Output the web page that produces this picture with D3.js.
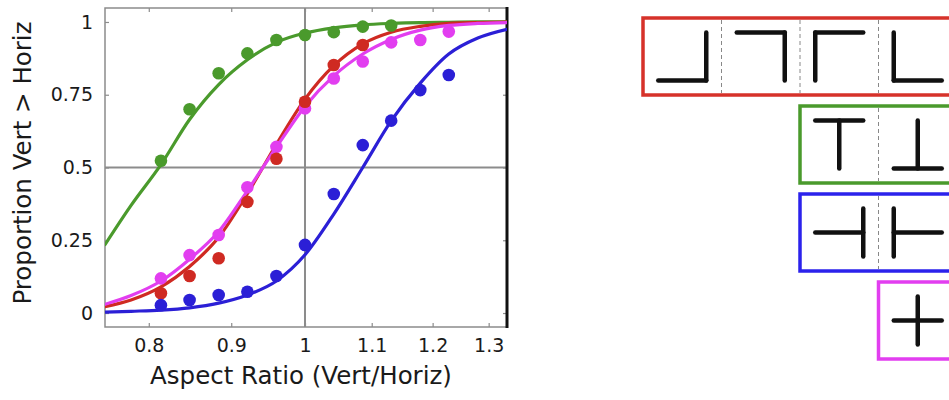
<!DOCTYPE html>
<html>
<head>
<meta charset="utf-8">
<script src="https://cdn.jsdelivr.net/npm/d3@7"></script>
<style>
  html, body { margin: 0; padding: 0; background: #fff; }
  svg { display: block; }
  text { font-family: "DejaVu Sans", "Liberation Sans", sans-serif; fill: #1a1a1a; }
</style>
</head>
<body>
<svg id="chart" width="949" height="400"></svg>
<script>
// ---------- data ----------
const ratios = [0.814, 0.848, 0.884, 0.921, 0.96, 1.0, 1.042, 1.086, 1.131, 1.179, 1.228];
const greenPts   = [0.523, 0.70, 0.824, 0.892, 0.938, 0.955, 0.965, 0.984, 0.988];
const redPts     = [0.068, 0.127, 0.188, 0.382, 0.53, 0.726, 0.852, 0.921];
const magentaPts = [0.119, 0.199, 0.268, 0.432, 0.571, 0.703, 0.806, 0.864, 0.93, 0.938, 0.967];
const bluePts    = [0.027, 0.045, 0.062, 0.073, 0.127, 0.234, 0.409, 0.577, 0.661, 0.766, 0.818];

// fitted curves
const curveX       = [0.7515, 0.78, 0.814, 0.848, 0.884, 0.921, 0.96, 1.0, 1.042, 1.086, 1.131, 1.179, 1.228, 1.28, 1.3345];
const greenFit     = [0.235, 0.37, 0.51, 0.665, 0.785, 0.87, 0.93, 0.962, 0.98, 0.99, 0.995, 0.998, 0.999, 1.0, 1.0];
const redFit       = [0.022, 0.045, 0.09, 0.16, 0.26, 0.41, 0.58, 0.735, 0.85, 0.925, 0.965, 0.985, 0.995, 0.998, 1.0];
const magentaFit   = [0.03, 0.06, 0.11, 0.185, 0.28, 0.42, 0.57, 0.71, 0.815, 0.89, 0.94, 0.972, 0.988, 0.995, 0.998];
const blueFit      = [0.003, 0.006, 0.01, 0.018, 0.034, 0.062, 0.11, 0.2, 0.34, 0.5, 0.66, 0.79, 0.89, 0.945, 0.975];

const xTicks = [0.8, 0.9, 1, 1.1, 1.2, 1.3];
const yTicks = [0, 0.25, 0.5, 0.75, 1];
const xTitle = "Aspect Ratio (Vert/Horiz)";
const yTitle = "Proportion Vert > Horiz";

// stimulus conditions (right panel)
const condNames  = ["corner", "T", "sideT", "cross"];
const condGlyphs = [["┘", "┐", "┌", "└"], ["┬", "┴"], ["┤", "├"], ["┼"]];
const condStart  = [0, 2, 2, 3];   // first column of each box

// ---------- styles ----------
const colors = { corner: "#d6322a", T: "#4a9a2c", sideT: "#2b22ec", cross: "#e23ef0" };
const lineColors = { green: "#4a9a2c", red: "#cf2a22", magenta: "#e23ef0", blue: "#2b1fd6" };

const svg = d3.select("#chart");
const L = 105, R = 507, T = 8, B = 327;

const x = d3.scaleLog().domain([0.7515, 1.3345]).range([L, R]);
const y = d3.scaleLinear().domain([-0.048, 1.048]).range([B, T]);

const plot = svg.append("g");

// gridlines at 1 and 0.5
plot.append("line").attr("x1", x(1)).attr("x2", x(1)).attr("y1", T).attr("y2", B)
  .attr("stroke", "#8c8c8c").attr("stroke-width", 2);
plot.append("line").attr("x1", L).attr("x2", R).attr("y1", y(0.5)).attr("y2", y(0.5))
  .attr("stroke", "#8c8c8c").attr("stroke-width", 2);

// axes with inward ticks (all four sides)
const axB = d3.axisBottom(x).tickValues(xTicks).tickSize(-4).tickFormat(d3.format("~g")).tickPadding(12);
const axT = d3.axisTop(x).tickValues(xTicks).tickSize(-4).tickFormat("");
const axLf = d3.axisLeft(y).tickValues(yTicks).tickSize(-4).tickFormat(d3.format("~g")).tickPadding(12);
const axRt = d3.axisRight(y).tickValues(yTicks).tickSize(-4).tickFormat("");

function styleAxis(g) {
  g.select(".domain").remove();
  g.selectAll(".tick line").attr("stroke", "#8c8c8c").attr("stroke-width", 1.2);
  g.selectAll(".tick text").style("font-family", '"DejaVu Sans", sans-serif')
    .style("font-size", "19px").attr("fill", "#1a1a1a");
}
plot.append("g").attr("transform", `translate(0,${B})`).call(axB).call(styleAxis);
plot.append("g").attr("transform", `translate(0,${T})`).call(axT).call(styleAxis);
plot.append("g").attr("transform", `translate(${L},0)`).call(axLf).call(styleAxis);
plot.append("g").attr("transform", `translate(${R},0)`).call(axRt).call(styleAxis);

// frame
plot.append("path").attr("d", `M${R},${T}H${L}V${B}H${R}`).attr("fill", "none")
  .attr("stroke", "#8c8c8c").attr("stroke-width", 1.5);
plot.append("line").attr("x1", R).attr("x2", R).attr("y1", T - 1).attr("y2", B + 1)
  .attr("stroke", "#111").attr("stroke-width", 3);

// curves
const series = [
  { key: "green", pts: greenPts, fit: greenFit },
  { key: "magenta", pts: magentaPts, fit: magentaFit },
  { key: "red", pts: redPts, fit: redFit },
  { key: "blue", pts: bluePts, fit: blueFit }
];
const line = d3.line().x(d => x(d[0])).y(d => y(d[1])).curve(d3.curveMonotoneX);
svg.append("clipPath").attr("id", "clip").append("rect")
  .attr("x", L).attr("y", T).attr("width", R - L).attr("height", B - T);
const lines = plot.append("g").attr("clip-path", "url(#clip)");
[series[0], series[2], series[1], series[3]].forEach(s => {
  lines.append("path").datum(curveX.map((v, i) => [v, s.fit[i]]))
    .attr("d", line).attr("fill", "none").attr("stroke", lineColors[s.key])
    .attr("stroke-width", 3.2).attr("stroke-linecap", "round");
});
series.forEach(s => {
  plot.append("g").selectAll("circle").data(s.pts.map((v, i) => [ratios[i], v]))
    .join("circle").attr("cx", d => x(d[0])).attr("cy", d => y(d[1])).attr("r", 6.3)
    .attr("fill", lineColors[s.key]);
});

// titles
svg.append("text").attr("x", 301).attr("y", 384).attr("text-anchor", "middle")
  .style("font-size", "24.5px").text(xTitle);
svg.append("text").attr("transform", `translate(31,163) rotate(-90)`).attr("text-anchor", "middle")
  .style("font-size", "24.5px").text(yTitle);

// ---------- right panel: stimulus legend ----------
const colX = d3.scaleLinear().domain([0, 1]).range([643, 721.5]);
const rowY = d3.scaleLinear().domain([0, 1]).range([18, 106]);
const boxH = 77, half = 24;
const glyphSegs = {
  "┘": [[-1, 1, 1, 1], [1, -1, 1, 1]],
  "┐": [[-1, -1, 1, -1], [1, -1, 1, 1]],
  "┌": [[-1, -1, 1, -1], [-1, -1, -1, 1]],
  "└": [[-1, -1, -1, 1], [-1, 1, 1, 1]],
  "┬": [[-1, -1, 1, -1], [0, -1, 0, 1]],
  "┴": [[0, -1, 0, 1], [-1, 1, 1, 1]],
  "┤": [[-1, 0, 1, 0], [1, -1, 1, 1]],
  "├": [[-1, -1, -1, 1], [-1, 0, 1, 0]],
  "┼": [[-1, 0, 1, 0], [0, -1, 0, 1]]
};
const legend = svg.append("g");
condNames.forEach((name, r) => {
  const x0 = colX(condStart[r]);
  const y0 = rowY(r);
  const g = legend.append("g");
  condGlyphs[r].forEach((gl, k) => {
    if (k > 0) {
      g.append("line").attr("x1", colX(condStart[r] + k)).attr("x2", colX(condStart[r] + k))
        .attr("y1", y0 + 2).attr("y2", y0 + boxH - 2)
        .attr("stroke", "#888").attr("stroke-width", 1).attr("stroke-dasharray", "4,3");
    }
    const cx = (colX(condStart[r] + k) + colX(condStart[r] + k + 1)) / 2;
    const cy = y0 + boxH / 2;
    glyphSegs[gl].forEach(sg => {
      g.append("line")
        .attr("x1", cx + sg[0] * half).attr("y1", cy + sg[1] * half)
        .attr("x2", cx + sg[2] * half).attr("y2", cy + sg[3] * half)
        .attr("stroke", "#111").attr("stroke-width", 4.5).attr("stroke-linecap", "round");
    });
  });
  g.append("rect").attr("x", x0).attr("y", y0).attr("width", 960 - x0).attr("height", boxH)
    .attr("fill", "none").attr("stroke", colors[name]).attr("stroke-width", 3.5);
});
</script>
</body>
</html>
